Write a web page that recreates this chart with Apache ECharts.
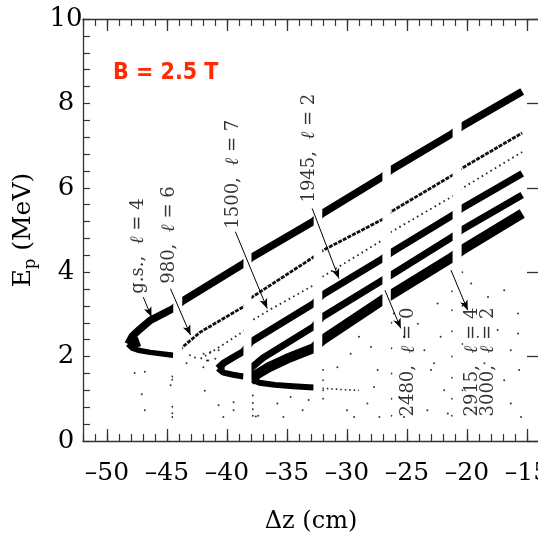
<!DOCTYPE html>
<html>
<head>
<meta charset="utf-8">
<script src="https://cdn.jsdelivr.net/npm/echarts@6/dist/echarts.min.js"></script>
<style>
html, body { margin: 0; padding: 0; background: #fff; }
#main { width: 538px; height: 542px; }
</style>
</head>
<body>
<div id="main"></div>
<script>
// proton energy Ep (MeV) vs. distance dz (cm)
// each band: [dz, Ep] points, upper / lower arm of the kinematic curve
var gsUp    = [[-48.25,2.3],[-47.9,2.48],[-47.3,2.64],[-46.4,2.86],[-44.48,3.14],[-43.73,3.31],[-38.63,4.2],[-37.96,4.35],
               [-32.78,5.21],[-32.06,5.39],[-27.05,6.26],[-26.35,6.42],[-21.2,7.29],[-20.45,7.45],[-15.4,8.28]];
var gsLow   = [[-48.25,2.3],[-47.9,2.2],[-47.4,2.15],[-46.4,2.1],[-44.48,2.03]];
var gsNose  = [[-48.1,2.3],[-47.6,2.33],[-47.3,2.36]];
var b980    = [[-43.9,2.15],[-43.73,2.22],[-42.23,2.58],[-38.63,3.18],[-37.96,3.4],[-32.78,4.36],[-32.06,4.51],
               [-27.05,5.25],[-26.35,5.43],[-21.2,6.3],[-20.45,6.46],[-15.4,7.3]];
var b1500   = [[-42.2,1.95],[-40.5,2.25],[-38.63,2.6],[-37.96,2.85],[-36.5,3.1],[-32.78,3.69],[-32.06,3.89],
               [-27.05,4.76],[-26.35,4.95],[-21.2,5.8],[-20.45,5.98],[-15.4,6.85]];
var b1945Up = [[-40.75,1.72],[-40.3,1.84],[-39.5,1.98],[-38.63,2.12],[-37.96,2.36],[-32.78,3.26],[-32.06,3.46],
               [-27.05,4.32],[-26.35,4.46],[-21.2,5.35],[-20.45,5.51],[-15.4,6.34]];
var b1945Low = [[-40.75,1.72],[-40.3,1.62],[-39.5,1.57],[-38.63,1.53]];
var b1945Nose = [[-40.65,1.71],[-40.2,1.72]];
var b2480   = [[-38.4,1.55],[-37.96,1.74],[-37.0,1.97],[-32.78,2.71],[-32.06,2.94],[-27.05,3.81],[-26.35,3.93],
               [-21.2,4.84],[-20.45,5.0],[-15.4,5.83]];
var b2915Up = [[-37.95,1.45],[-37.5,1.58],[-36.5,1.75],[-35,1.95],[-32.78,2.2],[-32.06,2.39],[-27.05,3.34],[-26.35,3.46],
               [-21.2,4.36],[-20.45,4.52],[-15.4,5.39]];
var b2915Low = [[-37.95,1.45],[-37.3,1.38],[-36,1.33],[-34.5,1.3],[-32.78,1.27]];
var b2915Nose = [[-37.9,1.45],[-37.3,1.47]];
var b2915Tail = [[-32.06,1.25],[-30.5,1.22],[-29.0,1.2]];

// scattered single events
var strayDots = [[-47.7,1.61],[-46.85,1.64],[-47.1,1.11],[-46.85,0.73],[-44.55,1.53],[-44.55,1.45],[-44.7,1.32],
  [-44.55,0.81],[-44.55,0.66],[-44.55,0.57],[-41.85,1.19],[-40.7,0.85],[-39.45,0.92],[-39.45,0.73],[-40.3,0.57],
  [-37.85,1.08],[-37.85,0.9],[-37.85,0.75],[-37.85,0.6],[-37.6,0.58],[-37.4,0.6],
  [-43.37,1.84],[-42.67,1.98],[-41.97,1.75],[-41.56,1.91],[-43.09,2.03],
  [-41.95,2.07],[-41.39,2.11],[-40.97,1.95],[-41.67,1.91],[-40.7,2.15],
  [-35.8,0.89],[-34.7,1.04],[-33.7,0.73],[-35.3,0.57],[-33.2,0.97],
  [-32.0,1.68],[-32.0,1.44],[-32.0,1.2],[-32.0,1.0],
  [-30.8,1.75],[-29.7,2.07],[-29.0,2.47],[-28.0,2.23],[-27.45,1.68],[-30.0,0.73],[-28.3,0.89],[-29.4,0.57],
  [-27.3,0.57],[-27.75,1.28],
  [-26.1,3.02],[-25.25,2.47],[-24.1,2.78],[-23.55,2.15],[-23.0,1.68],[-22.45,3.26],[-22.2,2.47],[-21.9,1.2],
  [-23.3,0.73],[-25.25,0.57],[-21.6,0.65],[-22.75,1.84],[-25.65,1.04],
  [-26.3,2.8],[-26.3,2.2],[-26.3,1.6],[-26.3,1.0],[-26.3,0.6],
  [-21.25,3.55],[-21.25,3.1],[-21.25,2.6],[-21.25,2.0],[-21.25,1.5],[-21.25,1.0],[-21.25,0.6],
  [-20.4,4.0],[-20.4,3.2],[-20.4,2.3],[-20.4,1.2],
  [-19.65,3.73],[-18.25,3.41],[-16.9,3.57],[-15.75,3.02],[-17.45,2.63],[-16.35,2.15],[-18.55,1.84],[-16.9,1.44],
  [-15.65,1.68],[-18.0,1.04],[-16.35,0.89],[-19.65,0.73],[-15.5,0.57],[-19.1,2.47],[-15.75,2.55]];

// detector gaps along dz (cm)
var gaps = [[-44.48,-43.73],[-38.63,-37.96],[-32.78,-32.06],[-27.05,-26.35],[-21.2,-20.45]];

// state labels and their arrows, in data coordinates
var notes = [
  {text: 'g.s.,  {i|ℓ} = 4', at: [-47.4, 4.62]},
  {text: '980,  {i|ℓ} = 6',  at: [-44.82, 4.88]},
  {text: '1500,  {i|ℓ} = 7', at: [-39.47, 6.32]},
  {text: '1945,  {i|ℓ} = 2', at: [-33.12, 6.94]},
  {text: '2480,  {i|ℓ} = 0', at: [-24.85, 1.87]},
  {text: '2915,  {i|ℓ} = 4', at: [-19.59, 1.87]},
  {text: '3000,  {i|ℓ} = 2', at: [-18.25, 1.87]}
];
var arrows = [
  [[-46.98,3.41],[-46.29,2.94]],
  [[-44.71,3.61],[-43.04,2.51]],
  [[-39.3,4.96],[-36.65,3.14]],
  [[-32.9,5.51],[-30.67,3.85]],
  [[-26.83,3.57],[-25.52,2.67]],
  [[-21.34,4.05],[-19.94,3.1]]
];

var xMajor = [-50,-45,-40,-35,-30,-25,-20,-15];
var yMajor = [0,2,4,6,8,10];

var chart = echarts.init(document.getElementById('main'));
var serif = 'DejaVu Serif';
var axisColor = '#333';

function band(data, width, lineType, color) {
    return {
        type: 'line',
        data: data,
        showSymbol: false,
        smooth: false,
        z: 2,
        silent: true,
        lineStyle: {color: color || '#000', width: width, type: lineType || 'solid', cap: 'butt', join: 'round'}
    };
}

function xAx(pos, major) {
    return {
        type: 'value', position: pos, min: -52, max: -14,
        interval: major ? undefined : 1,
        z: 10,
        axisLine: {show: !major, lineStyle: {color: axisColor, width: 1.3}},
        axisTick: major ? {inside: true, length: 12, customValues: xMajor, lineStyle: {color: axisColor, width: 1.3}}
                        : {inside: true, length: 7, lineStyle: {color: axisColor, width: 1.2}},
        splitLine: {show: false},
        axisLabel: {show: false}
    };
}

var xBottom = xAx('bottom', false);
xBottom.axisLabel = {
    show: true, margin: 20, color: '#000', fontFamily: serif, fontSize: 25,
    formatter: function (v) { return v % 5 === 0 ? String(v).replace('-', '–') : ''; }
};
xBottom.name = 'Δz (cm)';
xBottom.nameLocation = 'middle';
xBottom.nameGap = 69;
xBottom.nameTextStyle = {color: '#000', fontFamily: serif, fontSize: 24};

var option = {
    animation: false,
    backgroundColor: '#fff',
    title: {
        text: 'B = 2.5 T', left: 108, top: 57,
        textStyle: {color: '#ff2a00', fontSize: 23, fontWeight: 'bold',
                    fontFamily: '"Liberation Sans Narrow", "DejaVu Sans Condensed", "Liberation Sans", sans-serif'}
    },
    grid: {left: 83, top: 19, right: -1, bottom: 101, outerBoundsMode: 'none', containLabel: false},
    xAxis: [xBottom, xAx('bottom', true), xAx('top', false), xAx('top', true)],
    yAxis: [
        {
            type: 'value', min: 0, max: 10, interval: 0.4, z: 10,
            axisLine: {show: true, lineStyle: {color: axisColor, width: 1.3}},
            axisTick: {inside: true, length: 7, lineStyle: {color: axisColor, width: 1.2}},
            splitLine: {show: false},
            axisLabel: {
                margin: 17, align: 'center', color: '#000', fontFamily: serif, fontSize: 26,
                formatter: function (v) {
                    var r = Math.round(v);
                    return (Math.abs(v - r) < 1e-6 && r % 2 === 0) ? String(r) : '';
                }
            },
            name: 'E{s|p} (MeV)',
            nameLocation: 'middle',
            nameGap: 33,
            nameRotate: 90,
            nameTextStyle: {
                color: '#000', fontFamily: serif, fontSize: 25,
                rich: {s: {fontFamily: serif, fontSize: 16, verticalAlign: 'bottom', padding: [14, 0, 0, 0]}}
            }
        },
        {
            type: 'value', min: 0, max: 10, z: 10,
            axisLine: {show: false},
            axisTick: {inside: true, length: 12, customValues: yMajor, lineStyle: {color: axisColor, width: 1.3}},
            splitLine: {show: false},
            axisLabel: {show: false}
        }
    ],
    series: [
        band(gsLow, 5.5),
        band(gsUp, 7.5),
        band(gsNose, 10),
        band(b980, 2.8, [4, 1.2], '#111'),
        band(b1500, 1.8, [1.6, 3.5], '#222'),
        band(b1945Low, 6),
        band(b1945Up, 7),
        band(b1945Nose, 8),
        band(b2480, 7),
        band(b2915Low, 6),
        band(b2915Up, 10),
        band(b2915Nose, 9),
        band(b2915Tail, 1.6, [1.5, 3], '#222'),
        {
            type: 'scatter', data: strayDots, symbolSize: 2, z: 3, silent: true,
            itemStyle: {color: '#000'}
        },
        {
            // white strips where the detectors leave gaps
            type: 'custom', data: gaps, z: 4, silent: true,
            encode: {x: [0, 1]},
            renderItem: function (params, api) {
                var p0 = api.coord([api.value(0), 9.2]);
                var p1 = api.coord([api.value(1), 0.3]);
                return {
                    type: 'rect',
                    shape: {x: p0[0], y: p0[1], width: p1[0] - p0[0], height: p1[1] - p0[1]},
                    style: {fill: '#fff'}
                };
            }
        },
        {
            type: 'scatter', data: [], z: 6, silent: true,
            markLine: {
                silent: true,
                symbol: ['none', 'arrow'],
                symbolSize: [6, 10],
                label: {show: false},
                lineStyle: {color: '#000', width: 1, type: 'solid'},
                data: arrows.map(function (a) { return [{coord: a[0]}, {coord: a[1]}]; })
            }
        },
        {
            type: 'scatter', z: 6, silent: true, symbolSize: 0,
            data: notes.map(function (n) { return {value: n.at, name: n.text}; }),
            label: {
                show: true, position: 'inside', rotate: 90,
                formatter: function (p) { return p.name; },
                color: '#000', fontFamily: serif, fontSize: 18,
                rich: {i: {fontFamily: serif, fontSize: 19, fontStyle: 'italic', color: '#000'}}
            }
        }
    ]
};

chart.setOption(option);
</script>
</body>
</html>
